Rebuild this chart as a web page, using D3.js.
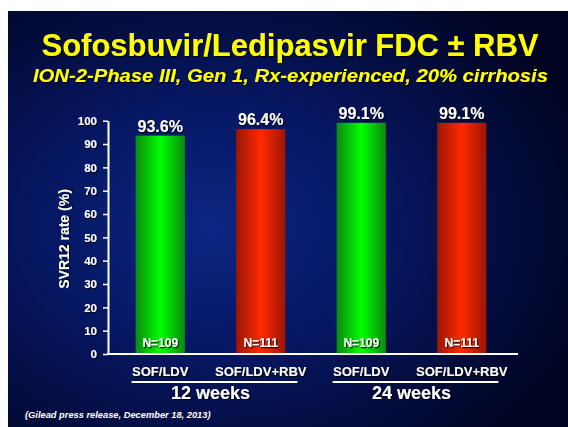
<!DOCTYPE html>
<html><head><meta charset="utf-8">
<script src="https://cdn.jsdelivr.net/npm/d3@7"></script>
<style>body{margin:0;background:#fff;}svg{display:block;}</style>
</head><body>
<svg id="chart" width="568" height="427"></svg>
<script>
const categories = ["SOF/LDV", "SOF/LDV+RBV", "SOF/LDV ", "SOF/LDV+RBV "];
const values = [93.6, 96.4, 99.1, 99.1];
const valueLabels = ["93.6%", "96.4%", "99.1%", "99.1%"];
const nLabels = ["N=109", "N=111", "N=109", "N=111"];
const barKinds = ["green", "red", "green", "red"];
const groups = ["12 weeks", "24 weeks"];
const groupMembers = [[0, 1], [2, 3]];
const yTicks = [0, 10, 20, 30, 40, 50, 60, 70, 80, 90, 100];

const svg = d3.select("#chart");
const defs = svg.append("defs");

const bg = defs.append("radialGradient").attr("id", "bg")
  .attr("cx", "0.36").attr("cy", "0.52").attr("r", "0.72");
bg.append("stop").attr("offset", "0").attr("stop-color", "#0b2682");
bg.append("stop").attr("offset", "0.45").attr("stop-color", "#061660");
bg.append("stop").attr("offset", "1").attr("stop-color", "#010420");

function barGrad(id, edge, mid) {
  const g = defs.append("linearGradient").attr("id", id).attr("x1", "0").attr("x2", "1").attr("y1", "0").attr("y2", "0");
  g.append("stop").attr("offset", "0").attr("stop-color", edge);
  g.append("stop").attr("offset", "0.5").attr("stop-color", mid);
  g.append("stop").attr("offset", "1").attr("stop-color", edge);
}
barGrad("green", "#0b8a10", "#00ff00");
barGrad("red", "#9a1506", "#ff2a00");

const sh = defs.append("filter").attr("id", "sh").attr("x", "-20%").attr("y", "-20%").attr("width", "140%").attr("height", "140%");
sh.append("feDropShadow").attr("dx", 1.2).attr("dy", 1.2).attr("stdDeviation", 0.6).attr("flood-color", "#000").attr("flood-opacity", 0.85);

svg.append("rect").attr("x", 8).attr("y", 11).attr("width", 560).attr("height", 416).attr("fill", "url(#bg)");

const font = "Liberation Sans, Arial, sans-serif";

// Titles
svg.append("text").attr("x", 290).attr("y", 56).attr("text-anchor", "middle")
  .attr("font-family", font).attr("font-weight", "bold")
  .attr("font-size", 31).attr("fill", "#ffff00").attr("filter", "url(#sh)")
  .attr("textLength", 497).attr("lengthAdjust", "spacingAndGlyphs")
  .text("Sofosbuvir/Ledipasvir FDC ± RBV");
svg.append("text").attr("x", 290.5).attr("y", 82).attr("text-anchor", "middle")
  .attr("font-family", font).attr("font-weight", "bold").attr("font-style", "italic")
  .attr("font-size", 19).attr("fill", "#ffff00").attr("filter", "url(#sh)")
  .attr("textLength", 515).attr("lengthAdjust", "spacingAndGlyphs")
  .text("ION-2-Phase III, Gen 1, Rx-experienced, 20% cirrhosis");

const x = d3.scaleBand().domain(categories).range([110, 512]).paddingInner(0.51).paddingOuter(0.255);
const y = d3.scaleLinear().domain([0, 100]).range([354, 120.7]);

// Bars
svg.append("g").selectAll("rect").data(categories).join("rect")
  .attr("x", d => x(d)).attr("width", x.bandwidth())
  .attr("y", (d, i) => y(values[i])).attr("height", (d, i) => y(0) - y(values[i]))
  .attr("fill", (d, i) => `url(#${barKinds[i]})`);

// Value labels
svg.append("g").selectAll("text").data(categories).join("text")
  .attr("x", d => x(d) + x.bandwidth() / 2).attr("y", (d, i) => y(values[i]) - 4)
  .attr("text-anchor", "middle").attr("font-family", font).attr("font-weight", "bold")
  .attr("font-size", 16).attr("fill", "#fff").attr("filter", "url(#sh)")
  .text((d, i) => valueLabels[i]);

// N labels
svg.append("g").selectAll("text").data(categories).join("text")
  .attr("x", d => x(d) + x.bandwidth() / 2).attr("y", 347)
  .attr("text-anchor", "middle").attr("font-family", font).attr("font-weight", "bold")
  .attr("font-size", 12).attr("fill", "#fff").attr("filter", "url(#sh)")
  .text((d, i) => nLabels[i]);

// Y axis
const yAxis = svg.append("g").attr("transform", "translate(108,0)")
  .call(d3.axisLeft(y).tickValues(yTicks).tickSize(5).tickPadding(6).tickSizeOuter(0));
yAxis.select(".domain").attr("stroke", "#fff").attr("stroke-width", 2);
yAxis.selectAll(".tick line").attr("stroke", "#fff").attr("stroke-width", 1.5);
yAxis.selectAll(".tick text").attr("fill", "#fff").attr("font-family", font)
  .attr("font-weight", "bold").attr("font-size", 11.5).attr("filter", "url(#sh)");

// X baseline and labels
svg.append("line").attr("x1", 107).attr("x2", 518).attr("y1", 354).attr("y2", 354)
  .attr("stroke", "#fff").attr("stroke-width", 2);
const xAxis = svg.append("g").attr("transform", "translate(0,354)")
  .call(d3.axisBottom(x).tickSize(0).tickPadding(13));
xAxis.select(".domain").remove();
xAxis.selectAll(".tick text").attr("fill", "#fff").attr("font-family", font)
  .attr("font-weight", "bold").attr("font-size", 13).attr("filter", "url(#sh)");

// Y title
svg.append("text").attr("transform", "translate(69,239) rotate(-90)")
  .attr("text-anchor", "middle").attr("font-family", font).attr("font-weight", "bold")
  .attr("font-size", 14).attr("fill", "#fff").attr("filter", "url(#sh)")
  .text("SVR12 rate (%)");

// Group brackets
groups.forEach((g, gi) => {
  const a = categories[groupMembers[gi][0]], b = categories[groupMembers[gi][1]];
  const x0 = x(a) - 4, x1 = x(b) + x.bandwidth() + 12;
  svg.append("line").attr("x1", x0).attr("x2", x1).attr("y1", 382).attr("y2", 382)
    .attr("stroke", "#fff").attr("stroke-width", 2);
  svg.append("text").attr("x", (x0 + x1) / 2 - 4).attr("y", 399).attr("text-anchor", "middle")
    .attr("font-family", font).attr("font-weight", "bold").attr("font-size", 18)
    .attr("fill", "#fff").attr("filter", "url(#sh)").text(g);
});

// Footnote
svg.append("text").attr("x", 25).attr("y", 418)
  .attr("font-family", font).attr("font-weight", "bold").attr("font-style", "italic")
  .attr("font-size", 9.3).attr("fill", "#fff")
  .text("(Gilead press release, December 18, 2013)");
</script>
</body></html>
